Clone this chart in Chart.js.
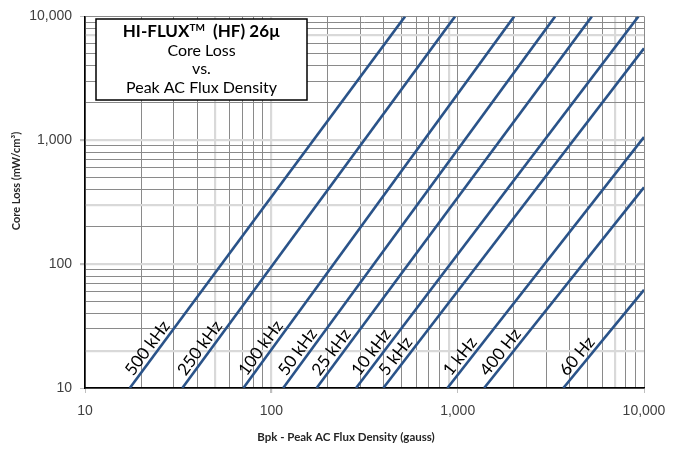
<!DOCTYPE html>
<html>
<head>
<meta charset="utf-8">
<script src="https://cdn.jsdelivr.net/npm/chart.js@4/dist/chart.umd.min.js"></script>
<style>
  html, body { margin: 0; padding: 0; background: #fff; }
  #wrap { width: 683px; height: 452px; position: relative; }
</style>
</head>
<body>
<div id="wrap"><canvas id="c" width="683" height="452"></canvas></div>
<script>
// one straight line per frequency, given by its two end points (gauss, mW/cm3)
var freqLabels = ['500 kHz', '250 kHz', '100 kHz', '50 kHz', '25 kHz', '10 kHz', '5 kHz', '1 kHz', '400 Hz', '60 Hz'];
var fluxStart  = [17.4, 33.3, 70.8, 115.8, 175, 285, 399, 881, 1387, 3690];
var lossStart  = [10, 10, 10, 10, 10, 10, 10, 10, 10, 10];
var fluxEnd    = [522, 968, 2010, 3334, 5250, 9335, 10000, 10000, 10000, 10000];
var lossEnd    = [10000, 10000, 10000, 10000, 10000, 10000, 5520, 1062, 417, 62];

// gridline values (1..9 per decade) and the odd light gray ones
var decades = [10, 100, 1000, 10000];
var lightX = [50, 100, 900, 7000];
var lightY = [20, 100, 300, 1000, 7000];

var lineColor = '#2a5389';
var i, k;

var gridVals = [];
for (i = 0; i < 3; ++i) {
  for (k = 1; k < 10; ++k) gridVals.push(decades[i] * k);
}
gridVals.push(10000);

var datasets = [];
for (i = 0; i < freqLabels.length; ++i) {
  datasets.push({
    label: freqLabels[i],
    data: [{x: fluxStart[i], y: lossStart[i]}, {x: fluxEnd[i], y: lossEnd[i]}],
    showLine: true,
    borderColor: lineColor,
    borderWidth: 2.6,
    pointRadius: 0,
    fill: false
  });
}

function isDecade(v) { return decades.indexOf(v) >= 0; }
function fmt(v) { return v.toLocaleString('en-US'); }

function gridColor(light) {
  return function(ctx) {
    if (!ctx.tick) return 'rgba(0,0,0,0)';
    return light.indexOf(ctx.tick.value) >= 0 ? '#d9d9d9' : '#8a8a8a';
  };
}
function gridWidth(light) {
  return function(ctx) {
    if (!ctx.tick) return 1;
    return light.indexOf(ctx.tick.value) >= 0 ? 2.2 : 1;
  };
}

var labelPlugin = {
  id: 'freqLabels',
  afterDatasetsDraw: function(chart) {
    var ctx = chart.ctx;
    ctx.save();
    ctx.font = '17px Lato';
    ctx.fillStyle = '#000';
    ctx.textAlign = 'left';
    ctx.textBaseline = 'alphabetic';
    for (var j = 0; j < chart.data.datasets.length; ++j) {
      var pts = chart.getDatasetMeta(j).data;
      var p0 = pts[0], p1 = pts[1];
      var dx = p1.x - p0.x, dy = p1.y - p0.y;
      var len = Math.sqrt(dx * dx + dy * dy);
      dx /= len; dy /= len;
      var ux = dy, uy = -dx;
      var s = 11, o = 4;
      var bx = p0.x + s * dx + o * ux;
      var by = p0.y + s * dy + o * uy;
      ctx.save();
      ctx.translate(bx, by);
      ctx.rotate(Math.atan2(dy, dx));
      ctx.fillText(chart.data.datasets[j].label, 0, 0);
      ctx.restore();
    }
    ctx.restore();
  },
  afterDraw: function(chart) {
    var ctx = chart.ctx;
    ctx.save();
    // title box
    var bx = 96, by = 19, bw = 211, bh = 81;
    ctx.fillStyle = '#fff';
    ctx.fillRect(bx, by, bw, bh);
    ctx.strokeStyle = '#000';
    ctx.lineWidth = 1.5;
    ctx.strokeRect(bx, by, bw, bh);

    var cx = bx + bw / 2;
    ctx.fillStyle = '#000';
    ctx.textBaseline = 'alphabetic';
    // first line: HI-FLUX(TM)  (HF) 26µ
    var a = 'HI-FLUX', tm = 'TM', b = '  (HF) 26µ';
    ctx.font = 'bold 17px Lato';
    var wa = ctx.measureText(a).width, wb = ctx.measureText(b).width;
    ctx.font = 'bold 10px Lato';
    var wt = ctx.measureText(tm).width;
    var x0 = cx - (wa + wt + wb) / 2;
    ctx.textAlign = 'left';
    ctx.font = 'bold 17px Lato';
    ctx.fillText(a, x0, 37);
    ctx.font = 'bold 10px Lato';
    ctx.fillText(tm, x0 + wa, 31);
    ctx.font = 'bold 17px Lato';
    ctx.fillText(b, x0 + wa + wt, 37);

    ctx.textAlign = 'center';
    ctx.font = '16px Lato';
    ctx.fillText('Core Loss', cx, 56);
    ctx.fillText('vs.', cx, 74);
    ctx.fillText('Peak AC Flux Density', cx, 93);

    // axis titles
    ctx.fillStyle = '#262626';
    ctx.font = 'bold 11.5px Lato';
    ctx.fillText('Bpk - Peak AC Flux Density (gauss)', 346, 441);
    ctx.translate(20, 181);
    ctx.rotate(-Math.PI / 2);
    ctx.font = 'bold 11px Lato';
    ctx.fillText('Core Loss (mW/cm³)', 0, 0);
    ctx.restore();
  }
};

var tickFont = {family: '"Liberation Sans", Arial, sans-serif', size: 14};

var chart = new Chart(document.getElementById('c').getContext('2d'), {
  type: 'scatter',
  data: {datasets: datasets},
  options: {
    responsive: false,
    animation: false,
    layout: {padding: {left: 0, top: 11, right: 39, bottom: 0}},
    plugins: {legend: {display: false}, tooltip: {enabled: false}},
    scales: {
      x: {
        type: 'logarithmic',
        min: 10,
        max: 10000,
        afterBuildTicks: function(scale) {
          scale.ticks = gridVals.map(function(v) { return {value: v}; });
        },
        afterFit: function(scale) { scale.height = 64; },
        ticks: {
          autoSkip: false,
          maxRotation: 0,
          color: '#404040',
          font: tickFont,
          padding: 10,
          callback: function(v) { return isDecade(v) ? fmt(v) : ''; }
        },
        grid: {
          color: gridColor(lightX),
          lineWidth: gridWidth(lightX),
          tickLength: 5,
          tickColor: function(ctx) { return ctx.tick && isDecade(ctx.tick.value) ? '#bfbfbf' : 'rgba(0,0,0,0)'; }
        },
        border: {color: '#000', width: 1.5}
      },
      y: {
        type: 'logarithmic',
        min: 10,
        max: 10000,
        afterBuildTicks: function(scale) {
          scale.ticks = gridVals.map(function(v) { return {value: v}; });
        },
        afterFit: function(scale) { scale.width = 85; },
        ticks: {
          autoSkip: false,
          color: '#404040',
          font: tickFont,
          padding: 8,
          callback: function(v) { return isDecade(v) ? fmt(v) : ''; }
        },
        grid: {
          color: gridColor(lightY),
          lineWidth: gridWidth(lightY),
          tickLength: 5,
          tickColor: function(ctx) { return ctx.tick && isDecade(ctx.tick.value) ? '#bfbfbf' : 'rgba(0,0,0,0)'; }
        },
        border: {color: '#000', width: 1.5}
      }
    }
  },
  plugins: [labelPlugin]
});
</script>
</body>
</html>
